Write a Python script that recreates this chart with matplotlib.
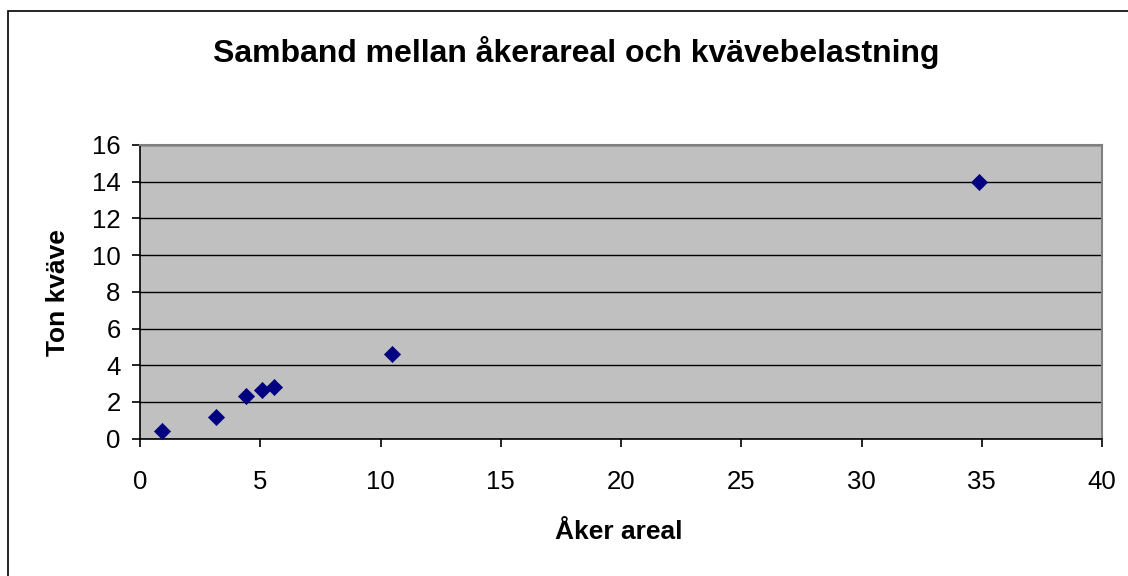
import matplotlib
matplotlib.use("Agg")
import matplotlib.pyplot as plt
from matplotlib.patches import Rectangle

plt.rcParams['font.family'] = ['Liberation Sans', 'DejaVu Sans']

aker_areal = [0.90, 3.16, 4.39, 5.07, 5.57, 10.47, 34.87]
ton_kvave = [0.42, 1.20, 2.34, 2.64, 2.82, 4.60, 14.00]
x_ticks = [0, 5, 10, 15, 20, 25, 30, 35, 40]
y_ticks = [0, 2, 4, 6, 8, 10, 12, 14, 16]

W, H = 1128, 576
fig = plt.figure(figsize=(W / 100, H / 100), dpi=100)
fig.patch.set_facecolor('white')

# outer chart frame (cropped at right/bottom)
fig.add_artist(Rectangle((8 / W, -0.1), 1.2, 1 - 11 / H + 0.1, transform=fig.transFigure,
                         fill=False, edgecolor='black', linewidth=1.2))

ax = fig.add_axes([140 / W, (H - 438.7) / H, 962 / W, 293.7 / H])
ax.set_facecolor('#C0C0C0')
ax.set_xlim(0, 40)
ax.set_ylim(0, 16)
ax.set_xticks(x_ticks)
ax.set_yticks(y_ticks)
ax.yaxis.grid(True, color='black', linewidth=1.0)
ax.set_axisbelow(True)

ax.scatter(aker_areal, ton_kvave, marker='D', s=8.2 ** 2, color='#000080',
           edgecolors='#000080', linewidths=0.5, zorder=3)

for side in ['top', 'right']:
    ax.spines[side].set_color('#808080')
    ax.spines[side].set_linewidth(1.5)
for side in ['left', 'bottom']:
    ax.spines[side].set_color('black')
    ax.spines[side].set_linewidth(1.2)

ax.tick_params(axis='both', direction='out', length=5.5, width=1.2, colors='black',
               labelsize=18.5)
ax.tick_params(axis='x', pad=17)
ax.tick_params(axis='y', pad=8.5)

fig.text(619 / W, 1 - 539 / H, 'Åker areal', ha='center', va='baseline',
         fontsize=19, fontweight='bold')
fig.text(65 / W, 1 - 292.5 / H, 'Ton kväve', ha='center', va='baseline',
         rotation=90, rotation_mode='anchor', fontsize=19, fontweight='bold')
fig.text(576 / W, 1 - 62 / H, 'Samband mellan åkerareal och kvävebelastning',
         ha='center', va='baseline', fontsize=23, fontweight='bold')

fig.savefig('out.png', dpi=100)
